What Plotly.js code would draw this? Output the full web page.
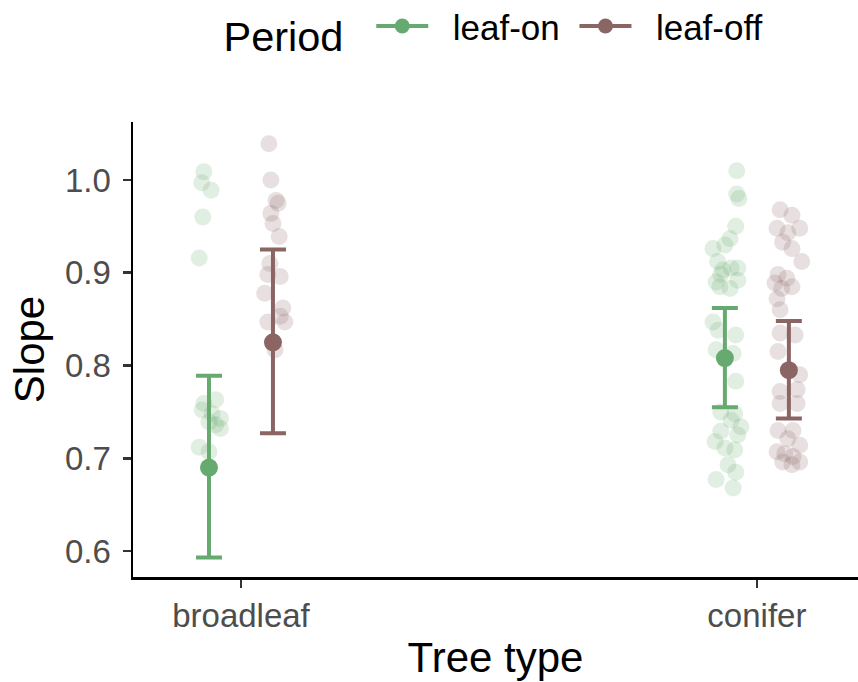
<!DOCTYPE html>
<html>
<head>
<meta charset="utf-8">
<script src="https://cdn.plot.ly/plotly-3.0.1.min.js"></script>
<style>html,body{margin:0;padding:0;background:#fff;}#chart{width:858px;height:682px;}</style>
</head>
<body>
<div id="chart"></div>
<script>
// ---- data ----
const categories = ["broadleaf", "conifer"];
const periods = ["leaf-on", "leaf-off"];

// model estimates (mean, lower, upper) per category, per period
const meanLeafOn  = [0.690, 0.808];
const lowerLeafOn = [0.593, 0.755];
const upperLeafOn = [0.789, 0.862];
const meanLeafOff  = [0.825, 0.795];
const lowerLeafOff = [0.727, 0.743];
const upperLeafOff = [0.925, 0.848];

const broadOnY = [1.009, 0.997, 0.989, 0.960, 0.916, 0.759, 0.763, 0.752, 0.748, 0.743, 0.736, 0.732, 0.739, 0.712, 0.707];
const broadOnJ = [-0.010, -0.014, 0.004, -0.012, -0.019, -0.010, 0.013, -0.013, 0.006, 0.022, 0.013, 0.022, 0.000, -0.019, 0.000];

const broadOffY = [1.039, 1.000, 0.978, 0.975, 0.964, 0.953, 0.939, 0.910, 0.898, 0.896, 0.878, 0.862, 0.847, 0.847, 0.853, 0.817];
const broadOffJ = [-0.008, -0.004, 0.006, 0.010, -0.004, 0.000, 0.012, -0.006, -0.010, 0.014, -0.016, 0.019, -0.010, 0.023, 0.014, 0.004];

const conOnY = [1.010, 0.985, 0.980, 0.950, 0.937, 0.926, 0.930, 0.912, 0.903, 0.905, 0.905, 0.898, 0.890, 0.892, 0.885, 0.883,
                0.847, 0.838, 0.833, 0.817, 0.813, 0.783, 0.748, 0.750, 0.741, 0.734, 0.729, 0.725, 0.718, 0.711, 0.709,
                0.693, 0.685, 0.677, 0.668];
const conOnJ = [0.023, 0.023, 0.027, 0.021, 0.010, -0.023, 0.000, -0.014, -0.004, 0.012, 0.025, -0.008, -0.017, 0.025, -0.010, 0.010,
                -0.023, -0.013, 0.021, -0.017, 0.016, 0.021, 0.019, -0.008, 0.012, 0.031, -0.008, 0.025, -0.019, 0.000, 0.019,
                0.006, 0.021, -0.017, 0.016];

const conOffY = [0.968, 0.962, 0.948, 0.948, 0.943, 0.933, 0.926, 0.912, 0.898, 0.894, 0.889, 0.883, 0.885, 0.872, 0.860,
                 0.835, 0.833, 0.815, 0.790, 0.774, 0.772, 0.759, 0.759, 0.730, 0.730, 0.721, 0.714, 0.707, 0.705, 0.702,
                 0.696, 0.696, 0.693];
const conOffJ = [-0.017, 0.006, -0.023, 0.021, -0.002, -0.012, 0.006, 0.025, -0.021, -0.004, -0.027, -0.014, 0.006, -0.023, -0.017,
                 -0.017, 0.012, -0.021, 0.021, 0.016, -0.017, -0.017, 0.016, -0.021, 0.008, -0.002, 0.021, -0.023, -0.008, 0.008,
                 -0.012, 0.021, 0.006];

// ---- styling / helpers ----
const GREEN = "#67AA6F";
const BROWN = "#8B6464";
const DODGE = 0.062;
const catPos = [1, 2];
const FONT = "Liberation Sans, Arial, sans-serif";
const NB = "\u00A0";

function jitterX(catIndex, sign, jit) {
  return jit.map(j => catPos[catIndex] + sign * DODGE + j);
}
function rawTrace(catIndex, sign, ys, jit, color) {
  return {
    type: "scatter", mode: "markers",
    x: jitterX(catIndex, sign, jit), y: ys,
    marker: {color: color, size: 17, opacity: 0.2, line: {width: 0}},
    showlegend: false, hoverinfo: "y"
  };
}
function meanTrace(sign, means, lows, ups, color) {
  return {
    type: "scatter", mode: "markers",
    x: catPos.map(c => c + sign * DODGE), y: means,
    error_y: {type: "data", symmetric: false,
              array: ups.map((u, i) => u - means[i]),
              arrayminus: means.map((m, i) => m - lows[i]),
              color: color, thickness: 4, width: 13},
    marker: {color: color, size: 18},
    showlegend: false
  };
}
function legendTrace(name, color, suffix) {
  return {
    type: "scatter", mode: "lines+markers", x: [null], y: [null],
    name: NB + NB + name + suffix,
    line: {color: color, width: 4}, marker: {color: color, size: 15}
  };
}

const traces = [
  rawTrace(0, -1, broadOnY, broadOnJ, GREEN),
  rawTrace(1, -1, conOnY, conOnJ, GREEN),
  rawTrace(0, 1, broadOffY, broadOffJ, BROWN),
  rawTrace(1, 1, conOffY, conOffJ, BROWN),
  meanTrace(-1, meanLeafOn, lowerLeafOn, upperLeafOn, GREEN),
  meanTrace(1, meanLeafOff, lowerLeafOff, upperLeafOff, BROWN),
  legendTrace(periods[0], GREEN, NB),
  legendTrace(periods[1], BROWN, "")
];

const layout = {
  width: 858, height: 682,
  margin: {l: 133, r: 0, t: 122, b: 105, autoexpand: false},
  paper_bgcolor: "#fff", plot_bgcolor: "#fff",
  font: {family: FONT, color: "#000"},
  xaxis: {
    range: [0.7907, 2.196],
    tickmode: "array", tickvals: catPos, ticktext: categories,
    showgrid: false, zeroline: false,
    showline: true, linecolor: "#000", linewidth: 2.5,
    ticks: "outside", ticklen: 8, tickwidth: 2.5, tickcolor: "#333",
    tickfont: {size: 33, color: "#4D4D4D", family: FONT},
    title: {text: "Tree type", font: {size: 42, color: "#000", family: FONT}, standoff: 10}
  },
  yaxis: {
    range: [0.572, 1.0625],
    tickmode: "array", tickvals: [0.6, 0.7, 0.8, 0.9, 1.0],
    ticktext: ["0.6", "0.7", "0.8", "0.9", "1.0"],
    showgrid: false, zeroline: false,
    showline: true, linecolor: "#000", linewidth: 2.5,
    ticks: "outside", ticklen: 8, tickwidth: 2.5, tickcolor: "#333",
    ticklabelstandoff: 5,
    tickfont: {size: 33, color: "#4D4D4D", family: FONT},
    title: {text: "Slope", font: {size: 42, color: "#000", family: FONT}, standoff: 8}
  },
  legend: {
    orientation: "h",
    x: 0.122, xanchor: "left",
    y: 1.205, yanchor: "middle",
    itemwidth: 52,
    title: {text: "Period" + NB + "\u2009", side: "left", font: {size: 41.5, color: "#000", family: FONT}},
    font: {size: 35, color: "#000", family: FONT},
    bgcolor: "rgba(0,0,0,0)"
  },
  showlegend: true
};

Plotly.newPlot("chart", traces, layout, {displayModeBar: false, staticPlot: true});
</script>
</body>
</html>
